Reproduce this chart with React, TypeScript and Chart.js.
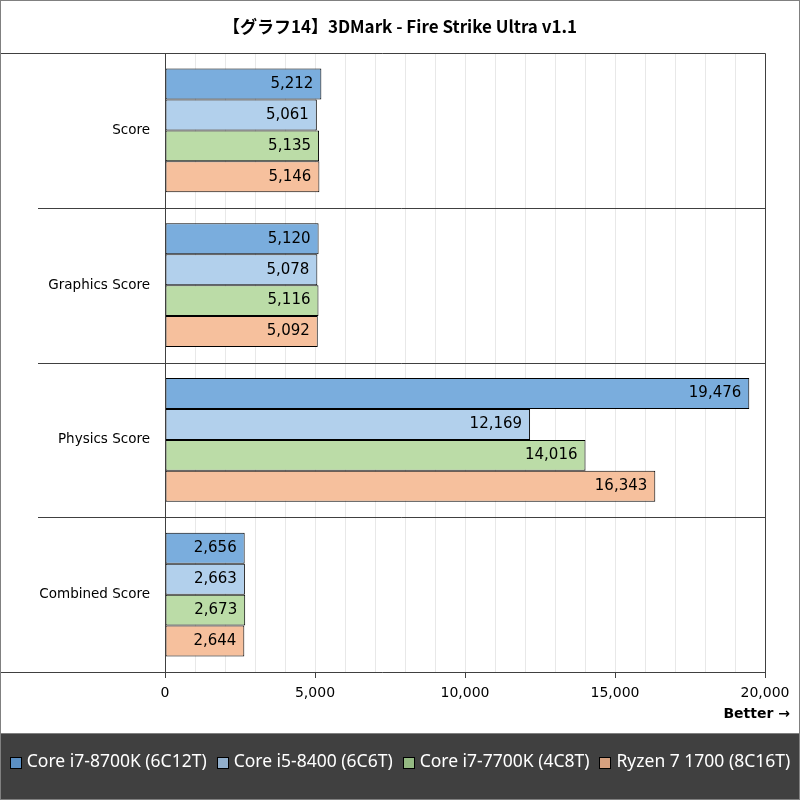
import React, { useEffect, useRef } from "react";
import { Chart, registerables } from "chart.js";

Chart.register(...registerables);

const TITLE = "【グラフ14】3DMark - Fire Strike Ultra v1.1";
const categories = ["Score", "Graphics Score", "Physics Score", "Combined Score"];
const seriesNames = [
  "Core i7-8700K (6C12T)",
  "Core i5-8400 (6C6T)",
  "Core i7-7700K (4C8T)",
  "Ryzen 7 1700 (8C16T)",
];
const i7_8700K = [5212, 5120, 19476, 2656];
const i5_8400 = [5061, 5078, 12169, 2663];
const i7_7700K = [5135, 5116, 14016, 2673];
const ryzen1700 = [5146, 5092, 16343, 2644];
const barColors = ["#7aaddd", "#b2d0ec", "#bbdca7", "#f6c09d"];
const legendColors = ["#5b8fc3", "#92afcc", "#94b982", "#d5a07f"];
const xMin = 0;
const xMax = 20000;
const gridStep = 1000;
const labelStep = 5000;
const BETTER = "Better →";

const FONT = "'DejaVu Sans', Verdana, sans-serif";

const framePlugin = {
  id: "frame",
  beforeDraw(chart: any) {
    const { ctx, width, height } = chart;
    ctx.save();
    ctx.fillStyle = "#ffffff";
    ctx.fillRect(0, 0, width, height);
    ctx.fillStyle = "#404040";
    ctx.fillRect(0, 733, width, height - 733);
    ctx.restore();
  },
  afterDraw(chart: any) {
    const { ctx, chartArea, width, height } = chart;
    const y = chart.scales.y;
    const L = Math.round(chartArea.left) + 0.5;
    const R = Math.round(chartArea.right) + 0.5;
    const T = Math.round(chartArea.top) + 0.5;
    const B = Math.round(chartArea.bottom) + 0.5;
    ctx.save();
    ctx.lineWidth = 1;
    ctx.strokeStyle = "#404040";
    ctx.beginPath();
    ctx.moveTo(0, T);
    ctx.lineTo(R, T);
    ctx.moveTo(R, T);
    ctx.lineTo(R, B);
    ctx.moveTo(0, B);
    ctx.lineTo(R, B);
    ctx.moveTo(L, T);
    ctx.lineTo(L, B);
    for (let i = 0; i < categories.length - 1; i++) {
      const p = Math.round((y.getPixelForTick(i) + y.getPixelForTick(i + 1)) / 2) + 0.5;
      ctx.moveTo(38, p);
      ctx.lineTo(R, p);
    }
    ctx.stroke();
    ctx.strokeStyle = "#808080";
    ctx.strokeRect(0.5, 0.5, width - 1, height - 1);
    ctx.beginPath();
    ctx.moveTo(0, 733.5);
    ctx.lineTo(width, 733.5);
    ctx.stroke();

    // title
    ctx.fillStyle = "#000000";
    ctx.font = "bold 17px 'Noto Sans CJK JP', sans-serif";
    ctx.textAlign = "center";
    ctx.textBaseline = "middle";
    ctx.fillText(TITLE, width / 2, 27);

    // Better
    ctx.font = "bold 14px " + FONT;
    ctx.textAlign = "right";
    ctx.fillText(BETTER, 790, 714);

    // data labels
    ctx.font = "15px " + FONT;
    ctx.textAlign = "right";
    ctx.textBaseline = "middle";
    chart.data.datasets.forEach((ds: any, di: number) => {
      const meta = chart.getDatasetMeta(di);
      meta.data.forEach((bar: any, i: number) => {
        const v = ds.data[i];
        ctx.fillText(v.toLocaleString("en-US"), bar.x - 8, bar.y);
      });
    });

    // legend
    ctx.font = "17.5px 'Noto Sans', sans-serif";
    ctx.textAlign = "left";
    const box = 12;
    const gapBox = 5;
    const gapItem = 10;
    const widths = seriesNames.map((n) => box + gapBox + ctx.measureText(n).width);
    const total = widths.reduce((a, b) => a + b, 0) + gapItem * (seriesNames.length - 1);
    let x = Math.max(6, (width - total) / 2);
    const ly = 762;
    seriesNames.forEach((n, i) => {
      ctx.fillStyle = legendColors[i];
      ctx.fillRect(Math.round(x) + 0.5, ly - 5 + 0.5, box - 1, box - 1);
      ctx.strokeStyle = "#000000";
      ctx.strokeRect(Math.round(x) + 0.5, ly - 5 + 0.5, box - 1, box - 1);
      ctx.fillStyle = "#ffffff";
      ctx.fillText(n, x + box + gapBox, ly);
      x += widths[i] + gapItem;
    });
    ctx.restore();
  },
};

export default function App() {
  const ref = useRef<HTMLCanvasElement>(null);
  useEffect(() => {
    document.body.style.margin = "0";
    const data = [i7_8700K, i5_8400, i7_7700K, ryzen1700];
    const chart = new Chart(ref.current as HTMLCanvasElement, {
      type: "bar",
      data: {
        labels: categories,
        datasets: seriesNames.map((n, i) => ({
          label: n,
          data: data[i],
          backgroundColor: barColors[i],
          borderColor: "#000000",
          borderWidth: 1,
          borderSkipped: false,
          categoryPercentage: 0.8,
          barPercentage: 1.0,
        })),
      },
      options: {
        indexAxis: "y",
        responsive: false,
        animation: false,
        layout: { padding: { top: 53, right: 35, left: 0, bottom: 0 } },
        plugins: {
          legend: { display: false },
          title: { display: false },
          tooltip: { enabled: false },
        },
        scales: {
          x: {
            min: xMin,
            max: xMax,
            afterFit: (s: any) => {
              s.height = 128;
            },
            border: { display: false },
            grid: {
              color: "#e8e8e8",
              tickLength: 6,
              tickColor: (c: any) =>
                c.tick && c.tick.value % labelStep === 0 ? "#404040" : "rgba(0,0,0,0)",
            },
            ticks: {
              stepSize: gridStep,
              autoSkip: false,
              maxRotation: 0,
              padding: 7,
              color: "#000000",
              font: { family: FONT, size: 14 },
              callback: (v: any) =>
                Number(v) % labelStep === 0 ? Number(v).toLocaleString("en-US") : "",
            },
          },
          y: {
            afterFit: (s: any) => {
              s.width = 165;
            },
            border: { display: false },
            grid: { display: false },
            ticks: {
              padding: 7,
              color: "#000000",
              font: { family: FONT, size: 13.5 },
            },
          },
        },
      },
      plugins: [framePlugin],
    });
    return () => chart.destroy();
  }, []);
  return <canvas ref={ref} width={800} height={800} style={{ display: "block" }} />;
}
